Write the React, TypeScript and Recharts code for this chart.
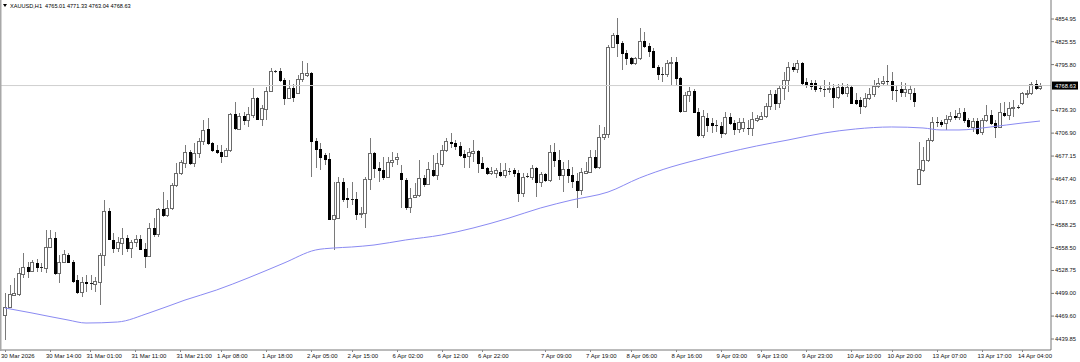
import { ComposedChart, Bar, Line, XAxis, YAxis, ReferenceLine } from "recharts";

const symbol = "XAUUSD,H1";

const tickIndex = [0, 10, 19, 29, 39, 48, 58, 68, 77, 87, 97, 106, 120, 130, 139, 149, 159, 168, 178, 188, 197, 207, 217, 226];
const tickLabels = [
  "30 Mar 2026", "30 Mar 14:00", "31 Mar 01:00", "31 Mar 11:00", "31 Mar 21:00", "1 Apr 08:00",
  "1 Apr 18:00", "2 Apr 05:00", "2 Apr 15:00", "6 Apr 02:00", "6 Apr 12:00", "6 Apr 22:00",
  "7 Apr 09:00", "7 Apr 19:00", "8 Apr 06:00", "8 Apr 16:00", "9 Apr 03:00", "9 Apr 13:00",
  "9 Apr 23:00", "10 Apr 10:00", "10 Apr 20:00", "13 Apr 07:00", "13 Apr 17:00", "14 Apr 04:00",
];

const priceTicks = [4854.95, 4825.55, 4795.8, 4736.3, 4706.9, 4677.15, 4647.4, 4617.65, 4588.25, 4558.5, 4528.75, 4499.0, 4469.6, 4439.85];

// open, high, low, close per H1 bar
const ohlc: number[][] = [
  [4471.0, 4499.5, 4438.5, 4481.4], [4481.4, 4509.9, 4480.1, 4498.2], [4496.9, 4519.0, 4495.6, 4499.5], [4498.2, 4532.0, 4495.6, 4525.5],
  [4524.2, 4551.4, 4519.0, 4533.2], [4533.2, 4539.7, 4519.0, 4528.1], [4528.1, 4542.3, 4526.8, 4539.7], [4538.4, 4543.6, 4526.8, 4533.2],
  [4533.2, 4538.4, 4526.8, 4533.0], [4532.0, 4581.2, 4525.5, 4559.2], [4559.2, 4581.2, 4557.9, 4570.9], [4570.9, 4578.7, 4522.9, 4525.5],
  [4525.5, 4548.8, 4512.5, 4539.7], [4539.7, 4555.3, 4538.4, 4550.1], [4548.8, 4551.4, 4538.4, 4539.7], [4539.7, 4542.3, 4512.5, 4515.1],
  [4516.4, 4522.9, 4498.2, 4500.8], [4500.8, 4520.3, 4494.3, 4513.8], [4513.8, 4522.9, 4500.8, 4512.5], [4512.5, 4522.9, 4503.4, 4512.9],
  [4511.2, 4520.3, 4500.8, 4515.1], [4513.8, 4551.4, 4484.0, 4548.8], [4548.8, 4620.2, 4534.5, 4605.9], [4605.9, 4609.8, 4568.3, 4569.6],
  [4568.3, 4577.4, 4551.4, 4557.9], [4557.9, 4572.2, 4552.7, 4565.7], [4564.4, 4583.8, 4548.8, 4570.9], [4570.9, 4574.8, 4552.7, 4557.9],
  [4557.9, 4568.3, 4544.9, 4565.7], [4565.7, 4574.8, 4559.2, 4569.6], [4569.6, 4574.8, 4555.3, 4556.6], [4556.6, 4564.4, 4532.0, 4547.5],
  [4547.5, 4590.3, 4546.2, 4583.8], [4583.8, 4596.8, 4572.2, 4576.1], [4576.1, 4609.8, 4572.2, 4608.5], [4608.5, 4630.5, 4598.1, 4600.7],
  [4600.7, 4620.2, 4598.1, 4609.8], [4609.8, 4642.2, 4607.2, 4639.6], [4639.6, 4668.1, 4637.0, 4655.2], [4655.2, 4672.0, 4652.6, 4669.5],
  [4668.1, 4691.5, 4661.7, 4682.4], [4682.4, 4685.0, 4665.6, 4668.1], [4668.1, 4694.1, 4663.0, 4681.1], [4681.1, 4700.6, 4674.6, 4696.7],
  [4696.7, 4723.9, 4691.5, 4711.0], [4712.3, 4726.5, 4691.5, 4694.1], [4694.1, 4695.4, 4682.4, 4685.0], [4685.0, 4691.5, 4679.8, 4682.4],
  [4682.4, 4691.5, 4668.1, 4677.2], [4677.2, 4687.6, 4675.9, 4685.0], [4685.0, 4733.0, 4682.4, 4731.7], [4731.7, 4747.3, 4711.0, 4713.6],
  [4712.3, 4733.0, 4711.0, 4729.1], [4729.1, 4734.3, 4717.5, 4723.9], [4723.9, 4740.8, 4714.9, 4731.7], [4730.4, 4765.4, 4726.5, 4752.5],
  [4752.5, 4753.8, 4723.9, 4725.2], [4725.2, 4743.4, 4716.2, 4739.5], [4738.2, 4766.7, 4723.9, 4761.6], [4761.6, 4791.4, 4760.3, 4787.5],
  [4787.5, 4788.8, 4784.9, 4787.8], [4787.5, 4791.4, 4773.2, 4775.8], [4775.8, 4778.4, 4743.4, 4752.5], [4752.5, 4775.8, 4752.0, 4765.4],
  [4765.4, 4770.6, 4747.3, 4753.8], [4759.0, 4782.3, 4757.7, 4777.1], [4777.1, 4800.5, 4773.2, 4784.9], [4782.3, 4797.9, 4779.7, 4784.9],
  [4784.9, 4786.2, 4650.0, 4696.7], [4696.7, 4700.6, 4661.7, 4686.3], [4686.3, 4694.1, 4659.1, 4675.9], [4678.5, 4681.1, 4665.6, 4673.3],
  [4673.3, 4681.1, 4594.2, 4595.5], [4595.5, 4643.5, 4555.3, 4600.7], [4596.8, 4650.0, 4595.5, 4643.5], [4643.5, 4648.7, 4617.6, 4621.5],
  [4622.8, 4635.7, 4609.8, 4621.2], [4621.5, 4643.5, 4613.7, 4621.8], [4621.5, 4630.5, 4594.2, 4602.0], [4602.0, 4611.1, 4596.8, 4603.3],
  [4603.3, 4650.0, 4583.8, 4647.4], [4647.4, 4700.6, 4633.1, 4681.1], [4681.1, 4682.4, 4648.7, 4661.7], [4661.7, 4669.5, 4643.5, 4659.1],
  [4659.1, 4676.0, 4646.1, 4650.0], [4650.0, 4676.0, 4648.7, 4669.5], [4669.5, 4682.4, 4663.0, 4672.0], [4673.3, 4681.1, 4665.6, 4675.9],
  [4655.2, 4665.6, 4609.8, 4647.4], [4646.1, 4648.7, 4607.2, 4611.1], [4611.1, 4635.7, 4603.3, 4622.8], [4624.1, 4642.2, 4622.8, 4626.6],
  [4626.6, 4672.0, 4624.1, 4648.7], [4648.7, 4652.6, 4637.0, 4640.9], [4640.9, 4669.5, 4639.6, 4660.4], [4659.1, 4678.5, 4650.0, 4652.6],
  [4652.6, 4681.1, 4646.1, 4668.1], [4666.9, 4691.5, 4663.0, 4685.0], [4685.0, 4700.6, 4682.4, 4696.7], [4695.4, 4707.1, 4687.6, 4694.1],
  [4694.1, 4698.0, 4685.0, 4690.2], [4690.2, 4695.4, 4675.9, 4678.5], [4679.8, 4685.0, 4661.7, 4675.9], [4677.2, 4687.6, 4661.7, 4682.4],
  [4681.1, 4698.0, 4669.5, 4683.7], [4683.7, 4685.0, 4655.2, 4668.1], [4668.1, 4676.0, 4660.4, 4661.7], [4661.7, 4663.0, 4652.6, 4655.2],
  [4655.2, 4663.0, 4652.6, 4657.8], [4655.2, 4661.7, 4648.7, 4659.1], [4656.5, 4668.1, 4650.0, 4652.6], [4652.6, 4668.1, 4648.7, 4659.1],
  [4657.8, 4661.7, 4652.6, 4658.1], [4659.1, 4661.7, 4650.0, 4655.2], [4655.2, 4659.1, 4617.6, 4629.2], [4629.2, 4655.2, 4624.1, 4650.0],
  [4651.3, 4655.2, 4648.7, 4651.6], [4650.0, 4665.6, 4646.1, 4661.7], [4661.7, 4663.0, 4624.1, 4643.5], [4643.5, 4656.5, 4637.0, 4653.9],
  [4653.9, 4655.2, 4643.5, 4646.1], [4646.1, 4691.5, 4643.5, 4682.4], [4682.4, 4694.1, 4663.0, 4672.0], [4672.0, 4685.0, 4646.1, 4652.6],
  [4652.6, 4669.5, 4630.5, 4660.4], [4660.4, 4672.0, 4642.2, 4652.6], [4652.6, 4663.0, 4635.7, 4644.8], [4644.8, 4655.2, 4609.8, 4633.1],
  [4633.1, 4661.7, 4626.6, 4656.5], [4655.2, 4669.5, 4655.2, 4657.8], [4656.5, 4685.0, 4655.2, 4675.9], [4675.9, 4685.0, 4660.4, 4663.0],
  [4663.0, 4717.5, 4660.4, 4701.9], [4701.9, 4714.9, 4698.0, 4705.8], [4705.8, 4821.2, 4700.6, 4818.6], [4818.6, 4836.8, 4817.3, 4834.2],
  [4834.2, 4856.2, 4805.7, 4823.8], [4823.8, 4826.4, 4788.8, 4810.9], [4810.9, 4814.7, 4795.3, 4804.4], [4804.4, 4805.7, 4795.3, 4797.9],
  [4797.9, 4805.7, 4795.3, 4804.4], [4804.4, 4843.3, 4801.8, 4826.4], [4826.4, 4838.1, 4817.3, 4819.9], [4819.9, 4823.8, 4805.7, 4813.4],
  [4813.4, 4817.3, 4791.4, 4792.7], [4792.7, 4795.3, 4775.8, 4783.6], [4783.6, 4792.7, 4773.2, 4783.9], [4783.6, 4801.8, 4779.7, 4797.9],
  [4797.9, 4805.7, 4769.3, 4799.2], [4799.2, 4805.7, 4769.3, 4778.4], [4778.4, 4779.7, 4733.0, 4735.6], [4735.6, 4760.3, 4734.3, 4756.4],
  [4756.4, 4766.7, 4747.3, 4761.6], [4761.6, 4764.1, 4733.0, 4734.3], [4734.3, 4739.5, 4701.9, 4704.5], [4704.5, 4736.9, 4700.6, 4729.1],
  [4726.5, 4733.0, 4708.4, 4717.5], [4720.0, 4726.5, 4707.1, 4717.5], [4717.5, 4723.9, 4708.4, 4717.8], [4716.2, 4721.3, 4700.6, 4707.1],
  [4707.1, 4734.3, 4704.5, 4727.8], [4727.8, 4733.0, 4717.5, 4720.0], [4720.0, 4723.9, 4704.5, 4712.3], [4712.3, 4726.5, 4707.1, 4721.3],
  [4713.6, 4726.5, 4708.4, 4721.3], [4713.6, 4723.9, 4704.5, 4713.9], [4713.6, 4734.3, 4703.2, 4725.2], [4723.9, 4730.4, 4721.3, 4726.5],
  [4725.2, 4734.3, 4723.9, 4729.1], [4729.1, 4746.0, 4726.5, 4742.1], [4742.1, 4762.9, 4736.9, 4757.7], [4757.7, 4762.9, 4736.9, 4746.0],
  [4746.0, 4769.3, 4739.5, 4765.4], [4765.4, 4786.2, 4749.9, 4775.8], [4775.8, 4799.2, 4760.3, 4792.7], [4792.7, 4797.9, 4786.2, 4790.1],
  [4790.1, 4801.8, 4784.9, 4797.9], [4797.9, 4799.2, 4769.3, 4771.9], [4773.2, 4778.4, 4765.4, 4769.3], [4771.9, 4775.8, 4762.9, 4768.0],
  [4771.9, 4775.8, 4760.3, 4764.1], [4765.4, 4768.0, 4760.3, 4765.7], [4764.1, 4775.8, 4753.8, 4764.4], [4764.1, 4773.2, 4759.0, 4765.4],
  [4765.4, 4770.6, 4739.5, 4753.8], [4753.8, 4770.6, 4751.2, 4766.7], [4766.7, 4771.9, 4756.4, 4759.0], [4759.0, 4770.6, 4753.8, 4766.7],
  [4766.7, 4769.3, 4744.7, 4746.0], [4749.9, 4759.0, 4743.4, 4746.0], [4749.9, 4753.8, 4731.7, 4742.1], [4742.1, 4759.0, 4739.5, 4752.5],
  [4752.5, 4765.4, 4749.9, 4757.7], [4757.7, 4775.8, 4753.8, 4768.0], [4768.0, 4778.4, 4765.4, 4771.9], [4771.9, 4781.0, 4768.0, 4774.5],
  [4774.5, 4795.3, 4769.3, 4774.8], [4774.5, 4786.2, 4749.9, 4762.9], [4762.9, 4769.3, 4747.3, 4763.2], [4764.1, 4773.2, 4753.8, 4760.3],
  [4760.3, 4771.9, 4753.8, 4764.1], [4759.0, 4769.3, 4749.9, 4764.1], [4759.0, 4765.4, 4740.8, 4748.6], [4640.9, 4695.4, 4639.6, 4660.4],
  [4659.1, 4688.9, 4656.5, 4672.0], [4672.0, 4700.6, 4669.5, 4698.0], [4698.0, 4727.8, 4695.4, 4721.3], [4721.3, 4727.8, 4714.9, 4721.6],
  [4721.3, 4723.9, 4714.9, 4718.8], [4720.0, 4730.4, 4711.0, 4725.2], [4725.2, 4734.3, 4721.3, 4729.1], [4729.1, 4736.9, 4723.9, 4727.8],
  [4727.8, 4739.5, 4723.9, 4733.0], [4734.3, 4739.5, 4720.0, 4723.9], [4723.9, 4726.5, 4713.6, 4716.2], [4714.9, 4726.5, 4708.4, 4722.6],
  [4722.6, 4726.5, 4704.5, 4707.1], [4708.4, 4726.5, 4704.5, 4723.9], [4723.9, 4743.4, 4721.3, 4730.4], [4730.4, 4736.9, 4717.5, 4720.0],
  [4720.0, 4723.9, 4700.6, 4714.9], [4714.9, 4746.0, 4713.6, 4734.3], [4733.0, 4747.3, 4727.8, 4730.4], [4730.4, 4747.3, 4723.9, 4739.5],
  [4739.5, 4749.9, 4727.8, 4740.8], [4740.8, 4743.4, 4738.2, 4741.1], [4746.0, 4760.3, 4743.4, 4759.0], [4757.7, 4762.9, 4752.5, 4759.0],
  [4759.0, 4773.2, 4756.4, 4770.6], [4770.6, 4775.8, 4762.9, 4765.4], [4765.01, 4771.33, 4763.04, 4768.63],
];

// moving average, read at a few bars (bar index, price)
const maPoints: number[][] = [
  [0, 4480.1], [6, 4473.6], [14, 4464.5], [18, 4460.6], [25, 4461.9], [32, 4473.6], [40, 4490.4], [47, 4503.4],
  [54, 4519.0], [62, 4538.4], [69, 4555.3], [73, 4557.9], [77, 4559.2], [82, 4561.8], [89, 4568.3], [97, 4574.8],
  [104, 4583.8], [112, 4596.8], [119, 4609.8], [126, 4620.2], [134, 4630.5], [141, 4648.7], [148, 4663.0], [152, 4669.5],
  [160, 4681.1], [167, 4690.2], [174, 4698.0], [182, 4707.1], [189, 4712.3], [197, 4714.9], [204, 4713.6], [208, 4711.0],
  [212, 4711.0], [219, 4714.9], [226, 4720.0], [230, 4722.6],
];

const maByIndex = new Map(maPoints.map(([i, v]) => [i, v]));
const data = ohlc.map(([o, h, l, c], i) => ({ i, o, h, l, c, range: [l, h], ma: maByIndex.get(i) ?? null }));
const last = ohlc[ohlc.length - 1];
const lastClose = last[3];

const FONT = "'Liberation Sans', Arial, sans-serif";
const WICK = "#7a7a7a";
const EDGE = "#6a6a6a";
const BEAR = "#000";

const Candle = (props: any) => {
  const { x, y, width, height, payload } = props;
  if (x == null || payload == null) return null;
  const { o, h, l, c } = payload;
  const top = Math.min(y, y + height);
  const px = Math.abs(height);
  const k = h > l ? px / (h - l) : 0;
  const py = (v: number) => top + (h - v) * k;
  const cx = Math.round(x + width / 2);
  const bTop = Math.round(Math.min(py(o), py(c)));
  const bBot = Math.round(Math.max(py(o), py(c)));
  const wTop = Math.round(top);
  const wBot = Math.round(top + px);
  let body;
  if (bBot - bTop < 1) {
    body = <rect x={cx - 1} y={bTop} width={3} height={1} fill="#222" />;
  } else if (c >= o) {
    body = <rect x={cx - 1.5} y={bTop + 0.5} width={3} height={bBot - bTop} fill="#fff" stroke={EDGE} strokeWidth={1} />;
  } else {
    body = <rect x={cx - 1} y={bTop} width={3} height={bBot - bTop + 1} fill={BEAR} />;
  }
  return (
    <g>
      <rect x={cx} y={wTop} width={1} height={Math.max(1, wBot - wTop)} fill={WICK} />
      {body}
    </g>
  );
};

const XTick = (props: any) => {
  const { x, payload } = props;
  const k = tickIndex.indexOf(payload.value);
  return (
    <g>
      <line x1={Math.round(x) + 0.5} x2={Math.round(x) + 0.5} y1={350} y2={352} stroke="#888" />
      <text x={x - 4} y={358} fontSize={6} fill="#111" fontFamily={FONT}>
        {tickLabels[k]}
      </text>
    </g>
  );
};

const YTick = (props: any) => {
  const { y, payload } = props;
  return (
    <text x={1055} y={y} dominantBaseline="central" fontSize={5.8} fill="#111" fontFamily={FONT}>
      {payload.value.toFixed(2)}
    </text>
  );
};

const PriceTag = (props: any) => {
  const { viewBox } = props;
  if (!viewBox) return null;
  const yy = viewBox.y;
  return (
    <g>
      <rect x={1052} y={yy - 4} width={26} height={8} fill="#000" />
      <text x={1055} y={yy} dominantBaseline="central" fontSize={5.8} fill="#fff" fontFamily={FONT}>
        {lastClose.toFixed(2)}
      </text>
    </g>
  );
};

export default function App() {
  const header = `${symbol}  ${last.map((v) => v.toFixed(2)).join(" ")}`;
  return (
    <div style={{ position: "absolute", left: 0, top: 0, width: 1080, height: 362, background: "#fff" }}>
      <ComposedChart width={1080} height={362} data={data} margin={{ top: 0, right: 0, bottom: 0, left: 0 }}>
        <XAxis
          type="number"
          dataKey="i"
          domain={[-1.111, 232.444]}
          allowDataOverflow
          ticks={tickIndex}
          interval={0}
          height={12}
          tick={<XTick />}
          tickLine={false}
          axisLine={{ stroke: "#777" }}
        />
        <YAxis
          orientation="right"
          type="number"
          domain={[4425.6, 4879.6]}
          allowDataOverflow
          ticks={priceTicks}
          interval={0}
          width={29}
          tick={<YTick />}
          tickSize={3}
          tickLine={{ stroke: "#777" }}
          axisLine={{ stroke: "#777" }}
        />
        <ReferenceLine y={lastClose} stroke="#cfcfcf" strokeWidth={1} label={<PriceTag />} />
        <Line
          dataKey="ma"
          type="monotone"
          stroke="#8a8af2"
          strokeWidth={1}
          dot={false}
          activeDot={false}
          connectNulls
          isAnimationActive={false}
        />
        <Bar dataKey="range" barSize={3} shape={<Candle />} isAnimationActive={false} />
      </ComposedChart>
      <svg width={1080} height={362} style={{ position: "absolute", left: 0, top: 0, pointerEvents: "none" }}>
        <rect x={0} y={0} width={1.5} height={351} fill="#a8a8a8" />
        <polygon points="3,4 7,4 5,7" fill="#000" />
        <text x={10} y={6} dominantBaseline="central" fontSize={5.6} fill="#000" fontFamily={FONT} style={{ whiteSpace: "pre" }}>
          {header}
        </text>
      </svg>
    </div>
  );
}
